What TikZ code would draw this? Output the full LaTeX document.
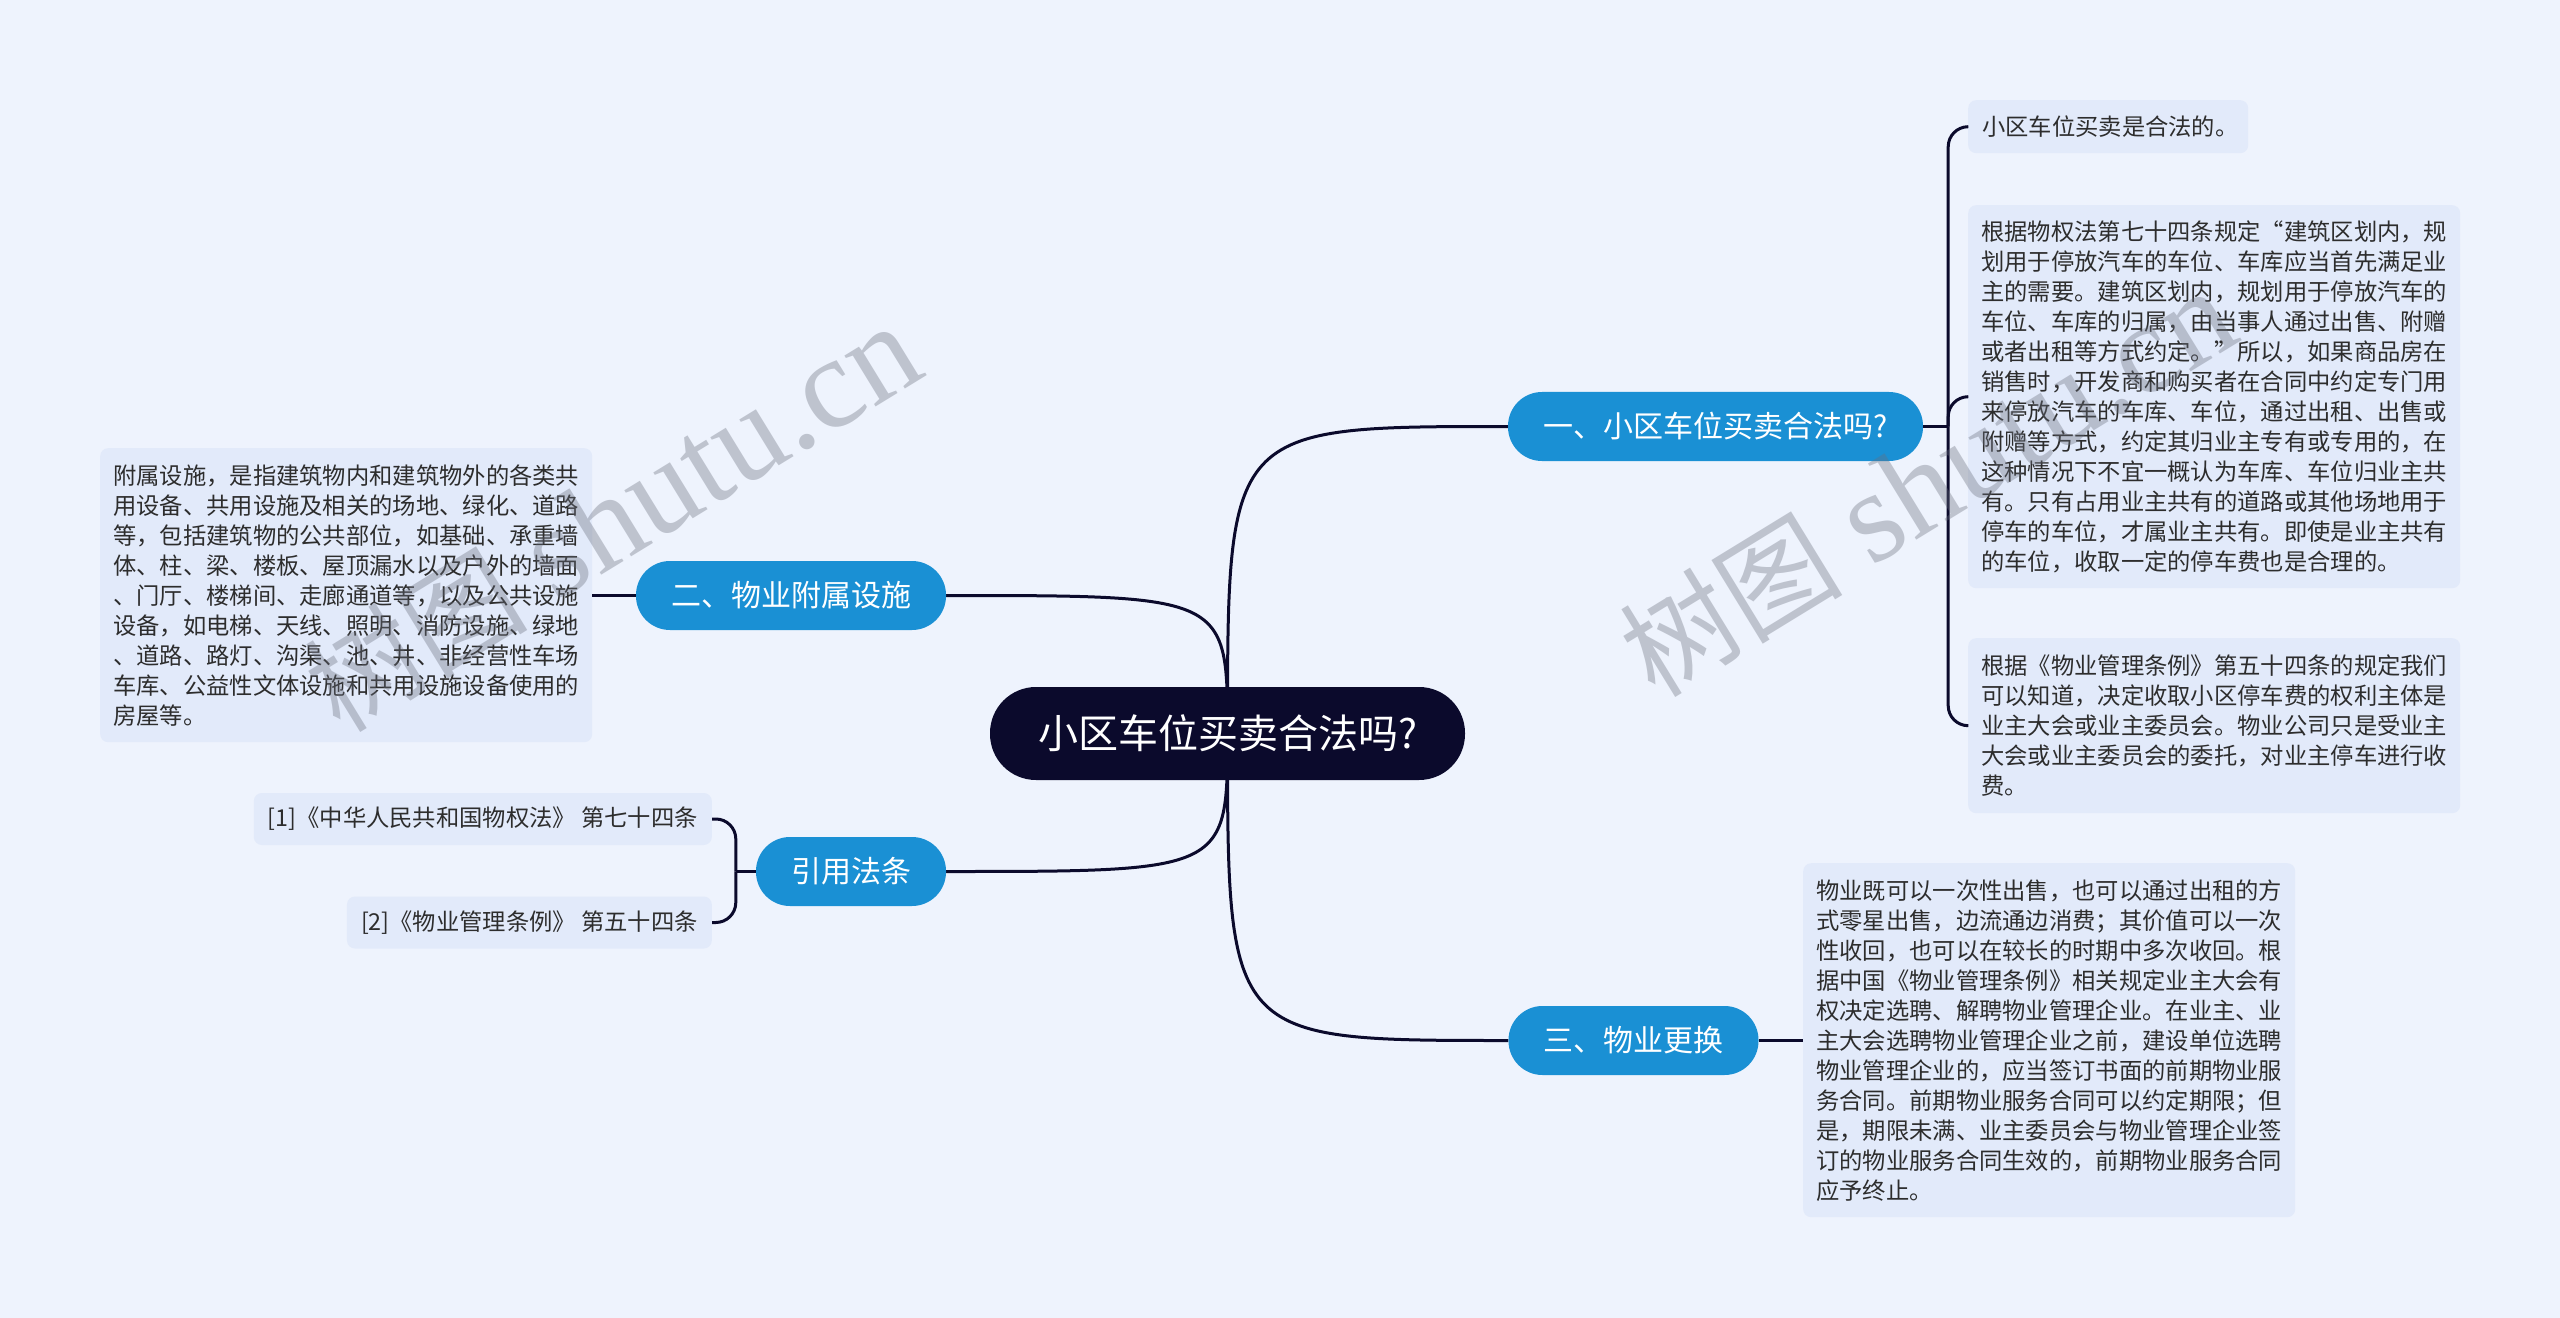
\documentclass[tikz,border=0pt]{standalone}
\usepackage{fontspec}
\setmainfont{Noto Sans CJK SC}
\newfontfamily\wmlatin{Liberation Serif}
\newfontfamily\cjkfont{Noto Sans CJK SC}
\usetikzlibrary{calc}
\definecolor{bgc}{RGB}{238,243,253}
\definecolor{leafc}{RGB}{226,234,250}
\definecolor{branchc}{RGB}{26,144,212}
\definecolor{rootc}{RGB}{11,10,44}
\definecolor{txtc}{RGB}{45,45,45}
\definecolor{wmc}{RGB}{105,110,125}
\pgfdeclarelayer{bg}
\pgfdeclarelayer{background}
\pgfsetlayers{bg,background,main}
\tikzset{
  rootbox/.style={fill=rootc, text=white, rounded corners=46bp, minimum width=475bp, minimum height=93bp, inner sep=0pt, font=\fontsize{40bp}{48bp}\selectfont},
  branchbox/.style={fill=branchc, text=white, rounded corners=34bp, minimum height=69bp, inner xsep=35bp, inner ysep=0pt, font=\fontsize{30bp}{36bp}\selectfont},
  leafbox/.style={fill=leafc, text=txtc, rounded corners=8bp, align=left, inner xsep=13bp, inner ysep=0pt, anchor=north west, font=\fontsize{23.3bp}{30bp}\selectfont},
  refbox/.style={fill=leafc, text=txtc, rounded corners=8bp, inner xsep=14bp, inner ysep=0pt, minimum height=52bp, anchor=east, font=\fontsize{23.3bp}{30bp}\selectfont},
  link/.style={draw=rootc, line width=3bp},
  wmark/.style={text=wmc, text opacity=0.36, inner sep=0pt, anchor=base west, rotate=31.5, font=\fontsize{130bp}{140bp}\selectfont}
}
\begin{document}
\begin{tikzpicture}[x=1bp,y=-1bp]
\begin{pgfonlayer}{bg}
\fill[bgc] (0,0) rectangle (2560,1318);
\end{pgfonlayer}
\useasboundingbox (0,0) rectangle (2560,1318);

% root and branches
\node[rootbox] (root) at (1227.5,733.5) {小区车位买卖合法吗?};
\node[branchbox, minimum width=415bp] (b1) at (1715.5,426.5) {一、小区车位买卖合法吗?};
\node[branchbox, minimum width=310bp] (b2) at (791,595.5) {二、物业附属设施};
\node[branchbox, minimum width=190bp] (b4) at (851,871.5) {引用法条};
\node[branchbox, minimum width=249bp] (b3) at (1633.5,1040.5) {三、物业更换};

% leaves of b1
\node[leafbox, text width=252bp, minimum width=280bp, minimum height=53bp, inner xsep=14bp] (l1) at (1968,100) {小区车位买卖是合法的。};
\node[leafbox, text width=466bp, minimum height=383bp] (l2) at (1968,205) {根据物权法第七十四条规定“建筑区划内，规\\
划用于停放汽车的车位、车库应当首先满足业\\
主的需要。建筑区划内，规划用于停放汽车的\\
车位、车库的归属，由当事人通过出售、附赠\\
或者出租等方式约定。”所以，如果商品房在\\
销售时，开发商和购买者在合同中约定专门用\\
来停放汽车的车库、车位，通过出租、出售或\\
附赠等方式，约定其归业主专有或专用的，在\\
这种情况下不宜一概认为车库、车位归业主共\\
有。只有占用业主共有的道路或其他场地用于\\
停车的车位，才属业主共有。即使是业主共有\\
的车位，收取一定的停车费也是合理的。};
\node[leafbox, text width=466bp, minimum height=175bp] (l3) at (1968,638) {根据《物业管理条例》第五十四条的规定我们\\
可以知道，决定收取小区停车费的权利主体是\\
业主大会或业主委员会。物业公司只是受业主\\
大会或业主委员会的委托，对业主停车进行收\\
费。};

% leaf of b2
\node[leafbox, text width=466bp, minimum height=294bp] (lb) at (100,448) {附属设施，是指建筑物内和建筑物外的各类共\\
用设备、共用设施及相关的场地、绿化、道路\\
等，包括建筑物的公共部位，如基础、承重墙\\
体、柱、梁、楼板、屋顶漏水以及户外的墙面\\
、门厅、楼梯间、走廊通道等，以及公共设施\\
设备，如电梯、天线、照明、消防设施、绿地\\
、道路、路灯、沟渠、池、井、非经营性车场\\
车库、公益性文体设施和共用设施设备使用的\\
房屋等。};

% leaf of b3
\node[leafbox, text width=466bp, minimum height=354bp] (rb) at (1803,863) {物业既可以一次性出售，也可以通过出租的方\\
式零星出售，边流通边消费；其价值可以一次\\
性收回，也可以在较长的时期中多次收回。根\\
据中国《物业管理条例》相关规定业主大会有\\
权决定选聘、解聘物业管理企业。在业主、业\\
主大会选聘物业管理企业之前，建设单位选聘\\
物业管理企业的，应当签订书面的前期物业服\\
务合同。前期物业服务合同可以约定期限；但\\
是，期限未满、业主委员会与物业管理企业签\\
订的物业服务合同生效的，前期物业服务合同\\
应予终止。};

% references
\node[refbox, minimum width=457bp] (r1) at (712,819) {[1]《中华人民共和国物权法》 第七十四条};
\node[refbox, minimum width=364bp] (r2) at (712,922.5) {[2]《物业管理条例》 第五十四条};

% connectors
\begin{pgfonlayer}{background}
\draw[link] (root.center) .. controls (root.center |- b1.west) .. (b1.west);
\draw[link] (root.center) .. controls (root.center |- b2.east) .. (b2.east);
\draw[link] (root.center) .. controls (root.center |- b4.east) .. (b4.east);
\draw[link] (root.center) .. controls (root.center |- b3.west) .. (b3.west);
\end{pgfonlayer}

\draw[link] (b1.east) -- ++(25,0) coordinate (j1);
\draw[link, rounded corners=20bp] (j1) |- (l1.west);
\draw[link, rounded corners=20bp] (j1) |- (l2.west);
\draw[link, rounded corners=20bp] (j1) |- (l3.west);

\draw[link] (b2.west) -- (lb.east |- b2.west);
\draw[link] (b3.east) -- (rb.west |- b3.east);

\draw[link] (b4.west) -- ++(-20,0) coordinate (j4);
\draw[link, rounded corners=20bp] (j4) |- (r1.east);
\draw[link, rounded corners=20bp] (j4) |- (r2.east);

% watermarks
\node[wmark] (wm1) at (340,735) {{\cjkfont\fontsize{112bp}{120bp}\selectfont 树图} {\wmlatin shutu.cn}};
\node[wmark] (wm2) at (1655,700) {{\cjkfont\fontsize{112bp}{120bp}\selectfont 树图} {\wmlatin shutu.cn}};
\end{tikzpicture}
\end{document}
